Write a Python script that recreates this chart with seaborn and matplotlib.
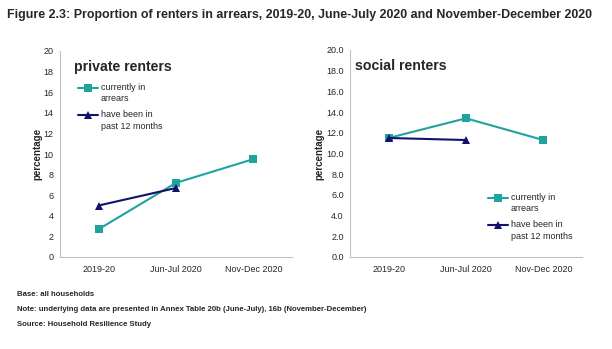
import matplotlib
matplotlib.use("Agg")
import matplotlib.pyplot as plt
from matplotlib.ticker import FixedLocator, FixedFormatter, NullFormatter
from matplotlib.legend_handler import HandlerLine2D
import numpy as np
import seaborn as sns
import pandas as pd

sns.set_theme(style="white")
plt.rcParams["font.family"] = ["Liberation Sans", "DejaVu Sans"]

periods = ["2019-20", "Jun-Jul 2020", "Nov-Dec 2020"]
private_current = [2.7, 7.2, 9.5]
private_past12 = [5.0, 6.7]
social_current = [11.5, 13.4, 11.3]
social_past12 = [11.5, 11.3]

label_current = "currently in\narrears"
label_past12 = "have been in\npast 12 months"

teal = "#1FA39E"
navy = "#12126E"
axis_grey = "#BFBFBF"


class FirstLineHandler(HandlerLine2D):
    """Legend line drawn level with the first line of a two-line label."""

    def create_artists(self, legend, orig_handle, xdescent, ydescent,
                       width, height, fontsize, trans):
        artists = super().create_artists(legend, orig_handle, xdescent,
                                         ydescent, width, height, fontsize,
                                         trans)
        for a in artists:
            a.set_ydata(np.asarray(a.get_ydata(), dtype=float) + 0.62 * fontsize)
        return artists


def frame(current, past):
    rows = [(i, v, label_current) for i, v in enumerate(current)]
    rows += [(i, v, label_past12) for i, v in enumerate(past)]
    return pd.DataFrame(rows, columns=["pos", "value", "series"])


fig = plt.figure(figsize=(6.12, 3.49), dpi=100)
ax_priv = fig.add_axes([60 / 612, 1 - 257 / 349, 232 / 612, 206 / 349])
ax_soc = fig.add_axes([350 / 612, 1 - 257 / 349, 232 / 612, 207 / 349])

palette = {label_current: teal, label_past12: navy}
markers = {label_current: "s", label_past12: "^"}

panels = [
    (ax_priv, private_current, private_past12, "private renters", "%d",
     (0.06, 0.955), (0.078, 0.845)),
    (ax_soc, social_current, social_past12, "social renters", "%.1f",
     (0.02, 0.955), (0.595, 0.31)),
]

for ax, cur, past, name, fmt, title_xy, leg_xy in panels:
    df = frame(cur, past)
    sns.lineplot(data=df, x="pos", y="value", hue="series", style="series",
                 palette=palette, markers=markers, dashes=False,
                 markersize=5.5, markeredgewidth=0, linewidth=1.5, ax=ax)
    ax.set_xlim(-0.5, 2.5)
    ax.set_ylim(0, 20)
    ax.set_yticks(range(0, 21, 2))
    ax.set_yticklabels([fmt % v for v in range(0, 21, 2)], fontsize=6.5)
    ax.xaxis.set_major_locator(FixedLocator([0, 1, 2]))
    ax.xaxis.set_major_formatter(FixedFormatter(periods))
    ax.xaxis.set_minor_locator(FixedLocator([-0.5, 0.5, 1.5, 2.5]))
    ax.xaxis.set_minor_formatter(NullFormatter())
    ax.tick_params(axis="x", which="major", length=0, labelsize=6.5, pad=6)
    ax.tick_params(axis="x", which="minor", length=3, color=axis_grey,
                   direction="out", width=0.8)
    ax.tick_params(axis="y", length=3, color=axis_grey, direction="out",
                   width=0.8, labelsize=6.5, pad=1.5)
    ax.set_xlabel("")
    ax.set_ylabel("percentage", fontsize=7, fontweight="bold", labelpad=1)
    for side in ("top", "right"):
        ax.spines[side].set_visible(False)
    for side in ("left", "bottom"):
        ax.spines[side].set_color(axis_grey)
        ax.spines[side].set_linewidth(0.8)
    ax.text(title_xy[0], title_xy[1], name, transform=ax.transAxes,
            fontsize=10.2, fontweight="bold", ha="left", va="top")
    handles, labels = ax.get_legend_handles_labels()
    leg = ax.legend(handles=handles, labels=labels, frameon=False,
                    fontsize=6.5, handlelength=2.2, handletextpad=0.35,
                    labelspacing=0.75, borderaxespad=0, borderpad=0,
                    loc="upper left", bbox_to_anchor=leg_xy,
                    handler_map={h: FirstLineHandler() for h in handles})
    for t in leg.get_texts():
        t.set_linespacing(1.35)

fig.text(7 / 612, 1 - 15 / 349, "Figure 2.3: Proportion of renters in arrears, 2019-20, June-July 2020 and November-December 2020",
         fontsize=8.9, fontweight="bold", ha="left", va="center")

footer = [
    "Base: all households",
    "Note: underlying data are presented in Annex Table 20b (June-July), 16b (November-December)",
    "Source: Household Resilience Study",
]
for i, line in enumerate(footer):
    fig.text(17 / 612, 1 - (294 + 15.3 * i) / 349, line, fontsize=5.6,
             fontweight="bold", ha="left", va="center")

fig.savefig("out.png", dpi=100)
